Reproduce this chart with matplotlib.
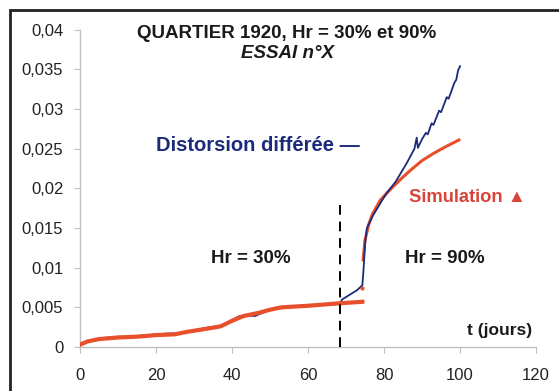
import matplotlib
matplotlib.use("Agg")
import matplotlib.pyplot as plt
from matplotlib.patches import Rectangle
from matplotlib.ticker import FuncFormatter

# Distorsion différée (mesure)
t_mes = [0, 1, 3, 5, 8, 10, 13, 15, 18, 20, 23, 26, 28, 30, 33, 36, 38, 40, 42, 44,
         46, 48, 50, 52, 55, 58, 62, 65, 68.4, 69, 71, 73, 74.3, 74.6, 75, 75.5, 77,
         79.5, 80.7, 83, 86, 88, 88.6, 88.9, 90, 91, 91.5, 92.5, 93, 94.5, 95, 96.5,
         97, 98.5, 99, 99.5, 100]
d_mes = [0.0002, 0.0005, 0.0008, 0.0011, 0.0012, 0.0013, 0.0013, 0.0014, 0.0015,
         0.0016, 0.0017, 0.0017, 0.0019, 0.0021, 0.0024, 0.0026, 0.0028, 0.0034,
         0.0039, 0.0040, 0.0039, 0.0043, 0.0047, 0.0050, 0.0051, 0.0052, 0.0053,
         0.0054, 0.0055, 0.0060, 0.0066, 0.0072, 0.0078, 0.0097, 0.0130, 0.0150,
         0.0165, 0.0185, 0.0194, 0.0208, 0.0232, 0.0250, 0.0264, 0.0251, 0.0262,
         0.0270, 0.0268, 0.0282, 0.0280, 0.0298, 0.0296, 0.0315, 0.0313, 0.0333,
         0.0337, 0.0349, 0.0354]

# Simulation, Hr = 30%
t_sim1 = [0, 2, 5, 10, 15, 20, 25, 28, 32, 37, 40, 43, 47, 50, 53, 60, 68, 74.3]
d_sim1 = [0.0003, 0.0007, 0.0010, 0.0012, 0.0013, 0.0015, 0.0016, 0.0019, 0.0022,
          0.0026, 0.0033, 0.0039, 0.0043, 0.0047, 0.0050, 0.0052, 0.0055, 0.0057]

# Simulation, Hr = 90%
t_sim2 = [74.5, 75, 76, 77, 79, 81.5, 84.7, 87, 90, 93, 96, 99.7]
d_sim2 = [0.0110, 0.0135, 0.0155, 0.0168, 0.0185, 0.0198, 0.0213, 0.0223, 0.0235,
          0.0244, 0.0252, 0.0261]

t_dot = [74.3]
d_dot = [0.0074]

t_change = 68.4

plt.rcParams['font.family'] = ['Liberation Sans', 'DejaVu Sans']

fig = plt.figure(figsize=(5.59, 3.91), dpi=100)
ax = fig.add_axes([0.143, 0.1125, 0.816, 0.8115])

blue = '#1b2a7c'
red = '#e8502c'

ax.plot(t_mes, d_mes, color=blue, lw=1.3, zorder=3)
ax.plot(t_sim1, d_sim1, color=red, lw=3.0, zorder=4)
ax.plot(t_sim2, d_sim2, color=red, lw=2.2, zorder=2)
ax.plot(t_dot, d_dot, 'o', color=red, ms=2, zorder=4)
ax.plot([t_change, t_change], [0, 0.0185], color='black', lw=1.4,
        dashes=(5, 3.5), zorder=5)

ax.set_xlim(0, 120)
ax.set_ylim(0, 0.04)
ax.set_xticks(range(0, 121, 20))
ax.set_yticks([i * 0.005 for i in range(9)])

def virgule(v, pos):
    if abs(v) < 1e-12:
        return '0'
    s = ('%.3f' % v).rstrip('0')
    return s.replace('.', ',')

ax.yaxis.set_major_formatter(FuncFormatter(virgule))

for side in ['top', 'right']:
    ax.spines[side].set_visible(False)
for side in ['left', 'bottom']:
    ax.spines[side].set_color('#c0c0c0')
    ax.spines[side].set_linewidth(1.0)
ax.tick_params(direction='out', length=4, color='#c0c0c0', labelsize=12,
               labelcolor='#222222')
ax.tick_params(axis='x', pad=11)
ax.tick_params(axis='y', pad=8)

ax.text(54.5, 0.0395, 'QUARTIER 1920, Hr = 30% et 90%', ha='center', va='center',
        fontsize=13.5, fontweight='bold', color='#1a1a1a')
ax.text(54.5, 0.0370, 'ESSAI n°X', ha='center', va='center', fontsize=13.5,
        fontweight='bold', fontstyle='italic', color='#1a1a1a')
ax.text(20, 0.0254, 'Distorsion différée —', ha='left', va='center', fontsize=14.5,
        fontweight='bold', color=blue)
ax.text(86.5, 0.0189, 'Simulation ▲', ha='left', va='center', fontsize=13.2,
        fontweight='bold', color='#d9443a')
ax.text(45, 0.0112, 'Hr = 30%', ha='center', va='center', fontsize=13.5,
        fontweight='bold', color='#1a1a1a')
ax.text(96, 0.0112, 'Hr = 90%', ha='center', va='center', fontsize=13.5,
        fontweight='bold', color='#1a1a1a')
ax.text(110.5, 0.0021, 't (jours)', ha='center', va='center', fontsize=12.5,
        fontweight='bold', color='#1a1a1a')

# cadre noir autour de la figure
fig.patches.append(Rectangle((10 / 559, -0.1), 1.2, 1.1 - 10 / 391,
                             transform=fig.transFigure, fill=False,
                             edgecolor='#222222', lw=2))

fig.savefig('out.png', dpi=100)
